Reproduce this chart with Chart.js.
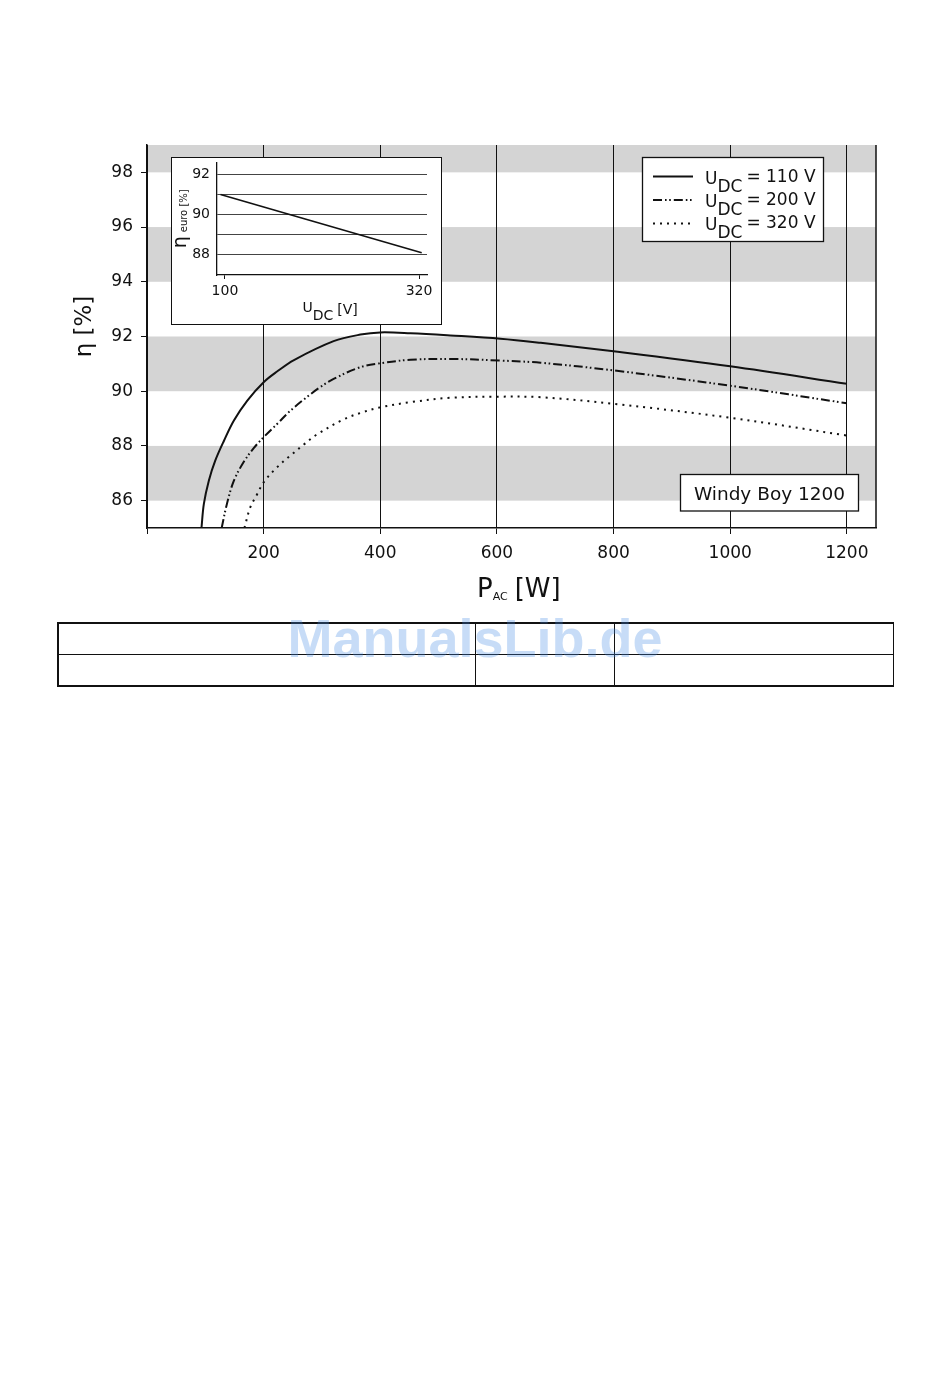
<!DOCTYPE html>
<html><head><meta charset="utf-8">
<script src="https://cdn.jsdelivr.net/npm/chart.js@4.4.1/dist/chart.umd.min.js"></script>
<style>
html,body{margin:0;padding:0;background:#fff;width:950px;height:1383px;overflow:hidden;font-family:'DejaVu Sans',sans-serif;}
#main{position:absolute;left:0;top:0;}
#insetBox{position:absolute;left:171px;top:157px;width:271px;height:168px;box-sizing:border-box;border:1.4px solid #111;background:#fff;}
#inset{position:absolute;left:171px;top:157px;}
.ln{position:absolute;background:#111;}
#wm{position:absolute;left:0;top:611px;width:950px;text-align:center;font-family:'Liberation Sans',Arial,sans-serif;font-weight:bold;font-size:54px;line-height:54px;color:rgba(70,140,230,0.3);z-index:5;}
</style></head><body>
<canvas id="main" width="950" height="620"></canvas>
<div id="insetBox"></div>
<canvas id="inset" width="271" height="168"></canvas>
<div class="ln" style="left:57px;top:622px;width:837px;height:1.5px"></div>
<div class="ln" style="left:57px;top:653.5px;width:837px;height:1.5px"></div>
<div class="ln" style="left:57px;top:685px;width:837px;height:1.5px"></div>
<div class="ln" style="left:57px;top:622px;width:1.5px;height:64.5px"></div>
<div class="ln" style="left:892.5px;top:622px;width:1.5px;height:64.5px"></div>
<div class="ln" style="left:474.5px;top:622px;width:1.5px;height:64.5px"></div>
<div class="ln" style="left:613.5px;top:622px;width:1.5px;height:64.5px"></div>
<div id="wm">ManualsLib.de</div>
<script>
// ---- data ----
const pac110 = [93.4, 97.5, 106, 117, 132, 149, 172, 200, 223, 252, 320, 366, 400, 452, 520, 606, 675, 800, 1000, 1200];
const eta110 = [85.0, 85.88, 86.73, 87.46, 88.19, 88.93, 89.66, 90.33, 90.72, 91.14, 91.83, 92.07, 92.15, 92.12, 92.04, 91.92, 91.77, 91.46, 90.91, 90.27];
const pac200 = [128, 137, 149, 166, 183, 200, 223, 246, 275, 297, 320, 366, 400, 452, 520, 606, 675, 800, 1000, 1200];
const eta200 = [85.0, 85.88, 86.73, 87.42, 87.92, 88.32, 88.8, 89.29, 89.8, 90.15, 90.45, 90.88, 91.02, 91.15, 91.18, 91.12, 91.04, 90.76, 90.2, 89.56];
const pac320 = [167, 177, 189, 200, 223, 246, 269, 290, 337, 368, 400, 452, 520, 600, 675, 800, 1000, 1200];
const eta320 = [85.0, 85.75, 86.24, 86.67, 87.22, 87.65, 88.05, 88.4, 88.97, 89.22, 89.41, 89.6, 89.76, 89.8, 89.78, 89.54, 89.03, 88.38];
const seriesVoltages = ['110 V', '200 V', '320 V'];
const xTicks = [0, 200, 400, 600, 800, 1000, 1200];
const yTicks = [86, 88, 90, 92, 94, 96, 98];
const bandRanges = [[86, 88], [90, 92], [94, 96], [98, 99]];
const productName = 'Windy Boy 1200';
const insetU = [95, 323];
const insetEta = [91.0, 88.1];
const insetXTicks = [100, 320];
const insetYTicks = [88, 89, 90, 91, 92];
const insetYLabels = [88, 90, 92];

const FAM = "'DejaVu Sans', sans-serif";
const INK = '#111';
const dashes = [[], [9, 3, 1.6, 2.6, 1.6, 3], [2, 5]];

const pts = (xs, ys) => xs.map((x, i) => ({x: x, y: ys[i]}));

const bandsPlugin = {
  id: 'bands',
  beforeDraw(chart) {
    const {ctx, chartArea: a, scales: {y}} = chart;
    ctx.save();
    ctx.fillStyle = '#d4d4d4';
    bandRanges.forEach(([lo, hi]) => {
      const t = y.getPixelForValue(hi), b = y.getPixelForValue(lo);
      ctx.fillRect(a.left, t, a.right - a.left, b - t);
    });
    ctx.restore();
  }
};

function drawUdc(ctx, x, base, size, subDrop, rest) {
  ctx.font = size + 'px ' + FAM;
  ctx.textAlign = 'left';
  ctx.fillText('U', x, base + 2);
  let w = ctx.measureText('U').width;
  ctx.fillText('DC', x + w, base + 2 + subDrop);
  w += ctx.measureText('DC').width;
  ctx.fillText(rest, x + w + 4, base);
}

const overlayPlugin = {
  id: 'overlay',
  afterDatasetsDraw(chart) {
    const ctx = chart.ctx;
    const a = chart.chartArea;
    ctx.save();
    // right frame
    ctx.strokeStyle = INK; ctx.lineWidth = 1.5;
    ctx.beginPath(); ctx.moveTo(a.right, a.top); ctx.lineTo(a.right, a.bottom); ctx.stroke();
    // legend box
    ctx.fillStyle = '#fff';
    ctx.fillRect(642.5, 157.5, 181, 84);
    ctx.lineWidth = 1.3; ctx.strokeRect(642.5, 157.5, 181, 84);
    chart.data.datasets.forEach((ds, i) => {
      const ly = 176.5 + i * 23.5;
      ctx.save();
      ctx.strokeStyle = ds.borderColor; ctx.lineWidth = ds.borderWidth;
      ctx.setLineDash(ds.borderDash || []);
      ctx.beginPath(); ctx.moveTo(653, ly); ctx.lineTo(693, ly); ctx.stroke();
      ctx.restore();
      ctx.fillStyle = INK;
      drawUdc(ctx, 705, 182 + i * 23, 17, 8, '= ' + seriesVoltages[i]);
    });
    // product box
    ctx.fillStyle = '#fff';
    ctx.fillRect(680.5, 474.5, 178, 36.5);
    ctx.strokeStyle = INK; ctx.lineWidth = 1.3;
    ctx.strokeRect(680.5, 474.5, 178, 36.5);
    ctx.fillStyle = INK;
    ctx.font = '18.5px ' + FAM; ctx.textAlign = 'center';
    ctx.fillText(productName, 769.5, 500);
    // y title
    ctx.save();
    ctx.translate(91, 326.5); ctx.rotate(-Math.PI / 2);
    ctx.font = '23px ' + FAM; ctx.textAlign = 'center';
    ctx.fillText('η [%]', 0, 0);
    ctx.restore();
    // x title
    ctx.textAlign = 'left';
    let x = 477;
    ctx.font = '26px ' + FAM; ctx.fillText('P', x, 597);
    x += ctx.measureText('P').width;
    ctx.font = '11px ' + FAM; ctx.fillText('AC', x, 600);
    x += ctx.measureText('AC').width + 7;
    ctx.font = '26px ' + FAM; ctx.fillText('[W]', x, 597);
    ctx.restore();
  }
};

new Chart(document.getElementById('main'), {
  type: 'line',
  data: {
    datasets: [
      {data: pts(pac110, eta110), borderDash: dashes[0]},
      {data: pts(pac200, eta200), borderDash: dashes[1]},
      {data: pts(pac320, eta320), borderDash: dashes[2]}
    ].map(d => Object.assign(d, {borderColor: INK, borderWidth: 2, pointRadius: 0, fill: false, tension: 0.35}))
  },
  options: {
    responsive: false, animation: false,
    layout: {padding: {top: 145, right: 74, left: 87, bottom: 52}},
    plugins: {legend: {display: false}, tooltip: {enabled: false}},
    scales: {
      x: {
        type: 'linear', min: 0, max: 1250,
        afterBuildTicks: s => { s.ticks = xTicks.map(v => ({value: v})); },
        afterFit: s => { s.height = 40; },
        grid: {color: INK, lineWidth: 1, tickLength: 6, drawOnChartArea: true},
        border: {color: INK, width: 1.5},
        ticks: {callback: v => v === 0 ? '' : String(v), font: {family: FAM, size: 17}, color: INK, padding: 9, maxRotation: 0, autoSkip: false}
      },
      y: {
        min: 85, max: 99,
        afterBuildTicks: s => { s.ticks = yTicks.map(v => ({value: v})); },
        afterFit: s => { s.width = 60; },
        grid: {color: INK, drawOnChartArea: false, tickLength: 6},
        border: {color: INK, width: 1.5},
        ticks: {font: {family: FAM, size: 17}, color: INK, padding: 8}
      }
    }
  },
  plugins: [bandsPlugin, overlayPlugin]
});

const insetTitles = {
  id: 'insetTitles',
  afterDraw(chart) {
    const ctx = chart.ctx;
    ctx.save();
    ctx.fillStyle = INK; ctx.textAlign = 'left';
    // x title U_DC [V]
    let x = 131.5;
    ctx.font = '14px ' + FAM; ctx.fillText('U', x, 155);
    x += ctx.measureText('U').width;
    ctx.fillText('DC', x, 163);
    x += ctx.measureText('DC').width + 4;
    ctx.fillText('[V]', x, 156.5);
    // y title η euro [%]
    ctx.translate(15, 91.3); ctx.rotate(-Math.PI / 2);
    ctx.font = '19px ' + FAM; ctx.fillText('η', 0, 0);
    const w = ctx.measureText('η').width;
    ctx.font = '10px ' + FAM; ctx.fillText('euro [%]', w + 4, 1);
    ctx.restore();
  }
};

new Chart(document.getElementById('inset'), {
  type: 'line',
  data: {datasets: [{data: pts(insetU, insetEta), borderColor: INK, borderWidth: 1.6, pointRadius: 0, fill: false}]},
  options: {
    responsive: false, animation: false,
    layout: {padding: {left: 10, top: 6, right: 15, bottom: 28}},
    plugins: {legend: {display: false}, tooltip: {enabled: false}},
    scales: {
      x: {
        type: 'linear', min: 91, max: 329,
        afterBuildTicks: s => { s.ticks = insetXTicks.map(v => ({value: v})); },
        afterFit: s => { s.height = 22; s.paddingLeft = 0; s.paddingRight = 0; },
        grid: {drawOnChartArea: false, tickLength: 4, color: INK},
        border: {color: INK, width: 1.3},
        ticks: {font: {family: FAM, size: 14}, color: INK, padding: 4, maxRotation: 0, autoSkip: false}
      },
      y: {
        min: 87, max: 92.56,
        afterBuildTicks: s => { s.ticks = insetYTicks.map(v => ({value: v})); },
        afterFit: s => { s.width = 36; s.paddingTop = 0; s.paddingBottom = 0; },
        grid: {color: '#444', lineWidth: 1, drawTicks: false},
        border: {color: INK, width: 1.3},
        ticks: {callback: v => insetYLabels.includes(v) ? String(v) : '', font: {family: FAM, size: 14}, color: INK, padding: 7}
      }
    }
  },
  plugins: [insetTitles]
});
</script>
</body></html>
